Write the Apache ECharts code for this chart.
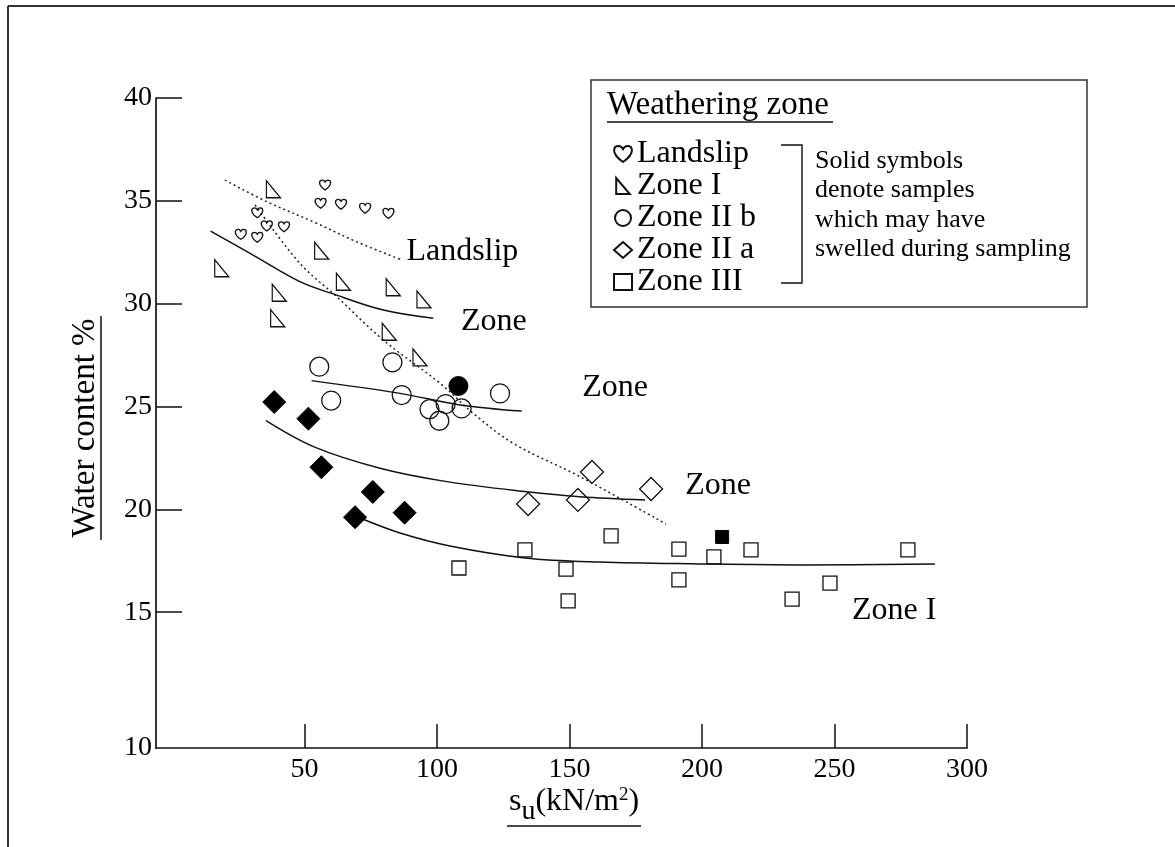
<!DOCTYPE html>
<html>
<head>
<meta charset="utf-8">
<script src="https://cdn.jsdelivr.net/npm/echarts@6/dist/echarts.min.js"></script>
<style>
html,body{margin:0;padding:0;background:#fff;}
#chart{width:1175px;height:847px;}
</style>
</head>
<body>
<div id="chart"></div>
<script>
// ---------- data ----------
const xTickValues = [50, 100, 150, 200, 250, 300];
const yTickValues = [15, 20, 25, 30, 35, 40];
const yCornerLabel = '10';
const X_MIN = -6, X_MAX = 300, Y_MIN = 8.4, Y_MAX = 40;

const seriesNames = ['Landslip', 'Zone I', 'Zone II b', 'Zone II a', 'Zone III'];

const landslipX = [57.8, 56.1, 63.8, 72.9, 81.7, 32.2, 35.8, 42.3, 26.0, 32.2];
const landslipY = [35.77, 34.88, 34.83, 34.64, 34.39, 34.42, 33.78, 33.74, 33.37, 33.23];

const zoneIX = [38.3, 56.5, 64.7, 83.5, 95.1, 40.5, 39.9, 18.8, 82.0, 93.6];
const zoneIY = [35.56, 32.58, 31.07, 30.80, 30.21, 30.53, 29.29, 31.72, 28.64, 27.39];

const zoneIIbX = [55.6, 83.2, 60.1, 86.7, 123.8, 97.2, 103.3, 109.3, 100.9];
const zoneIIbY = [26.94, 27.15, 25.29, 25.56, 25.64, 24.87, 25.12, 24.91, 24.31];
const zoneIIbSolidX = [108.1];
const zoneIIbSolidY = [26.0];

const zoneIIaX = [134.4, 153.2, 158.5, 180.8];
const zoneIIaY = [20.26, 20.46, 21.82, 20.99];
const zoneIIaSolidX = [38.6, 51.5, 56.4, 75.8, 87.8, 69.1];
const zoneIIaSolidY = [25.22, 24.41, 22.05, 20.85, 19.84, 19.62];

const zoneIIIX = [165.7, 133.2, 191.3, 218.5, 277.7, 204.5, 108.3, 148.7, 191.3, 248.3, 234.0, 149.5];
const zoneIIIY = [18.71, 18.03, 18.07, 18.03, 18.03, 17.69, 17.15, 17.10, 16.57, 16.42, 15.64, 15.55];
const zoneIIISolidX = [207.6];
const zoneIIISolidY = [18.66];

// trend curves
const landslipTrendX = [20.0, 35.8, 54.6, 69.7, 86.1];
const landslipTrendY = [36.01, 34.96, 33.91, 33.01, 32.16];
const zoneITrendX = [14.6, 29.5, 48.3, 60.3, 79.8, 98.6];
const zoneITrendY = [33.53, 32.45, 31.07, 30.5, 29.69, 29.29];
const zoneIDottedX = [31.4, 48.3, 62.2, 79.8, 101.2, 113.7, 128.8, 154.0, 186.4];
const zoneIDottedY = [34.8, 31.96, 30.34, 28.23, 26.13, 24.67, 23.21, 21.59, 19.29];
const zoneIIbTrendX = [52.7, 86.1, 108.7, 132.0];
const zoneIIbTrendY = [26.26, 25.64, 25.08, 24.78];
const zoneIIaTrendX = [35.5, 53.4, 78.5, 103.7, 133.9, 154.0, 178.5];
const zoneIIaTrendY = [24.31, 23.05, 22.0, 21.35, 20.86, 20.62, 20.46];
const zoneIIITrendX = [71.0, 86.1, 104.9, 133.2, 161.5, 199.3, 237.0, 287.9];
const zoneIIITrendY = [19.58, 18.85, 18.22, 17.64, 17.44, 17.35, 17.30, 17.35];

// in-plot annotations
const annotationLabels = ['Landslip', 'Zone', 'Zone', 'Zone', 'Zone I'];
const annotationX = [109.6, 121.5, 167.2, 206.1, 272.5];
const annotationY = [32.51, 29.11, 25.9, 21.14, 15.06];

const legendTitle = 'Weathering zone';
const noteText = ['Solid symbols', 'denote samples', 'which may have', 'swelled during sampling'];
const yAxisTitle = 'Water content %';

// ---------- chart ----------
const zip = (xs, ys) => xs.map((x, i) => [x, ys[i]]);
const FONT = '"Liberation Serif", "Times New Roman", serif';
const INK = '#000';
const LINE = '#111';
const HEART = 'path://M10,18 C10,18 0,11 0,5 C0,2 2,0 5,0 C7,0 9,1.5 10,3.5 C11,1.5 13,0 15,0 C18,0 20,2 20,5 C20,11 10,18 10,18 Z';
const TRI = 'path://M0,0 L0,20 L17,20 Z';
const openStyle = { color: 'rgba(255,255,255,0)', borderColor: LINE, borderWidth: 1.3, opacity: 1 };
const solidStyle = { color: '#000', borderColor: '#000', borderWidth: 1, opacity: 1 };

function scatter(name, xs, ys, symbol, size, style) {
  return { type: 'scatter', name, data: zip(xs, ys), symbol, symbolSize: size,
    itemStyle: style, z: 3, emphasis: { disabled: true } };
}
function curve(xs, ys, dotted) {
  return { type: 'line', data: zip(xs, ys), smooth: 0.35, showSymbol: false, symbol: 'none', silent: true,
    lineStyle: dotted ? { color: '#222', width: 1.5, type: [2, 3] } : { color: LINE, width: 1.5 }, z: 2 };
}

const chart = echarts.init(document.getElementById('chart'), null, { renderer: 'canvas' });
chart.setOption({
  animation: false,
  backgroundColor: '#fff',
  grid: { left: 156, right: 208, top: 98, bottom: 99 },
  xAxis: {
    type: 'value', min: X_MIN, max: X_MAX,
    axisLine: { onZero: false, lineStyle: { color: LINE, width: 1.7 } },
    axisTick: { show: true, inside: true, length: 24, customValues: xTickValues, lineStyle: { color: LINE, width: 1.5 } },
    axisLabel: { customValues: xTickValues, margin: 8, color: INK, fontFamily: FONT, fontSize: 28 },
    splitLine: { show: false }
  },
  yAxis: {
    type: 'value', min: Y_MIN, max: Y_MAX,
    axisLine: { show: true, onZero: false, lineStyle: { color: LINE, width: 1.7 } },
    axisTick: { show: true, inside: true, length: 26, customValues: yTickValues, lineStyle: { color: LINE, width: 1.5 } },
    axisLabel: { customValues: [Y_MIN].concat(yTickValues), margin: 4, color: INK, fontFamily: FONT, fontSize: 28,
      formatter: v => (Math.abs(v - Y_MIN) < 1e-6 ? yCornerLabel : String(v)) },
    splitLine: { show: false }
  },
  legend: {
    data: seriesNames, orient: 'vertical', left: 608, top: 133, itemGap: 0,
    itemWidth: 18, itemHeight: 16, selectedMode: false,
    textStyle: { fontFamily: FONT, fontSize: 32, lineHeight: 32, color: INK }
  },
  graphic: [
    { type: 'line', shape: { x1: 8, y1: 6, x2: 1175, y2: 6 }, style: { stroke: '#333', lineWidth: 2 } },
    { type: 'line', shape: { x1: 8, y1: 6, x2: 8, y2: 847 }, style: { stroke: '#333', lineWidth: 2 } },
    { type: 'rect', shape: { x: 591, y: 80, width: 496, height: 227 }, style: { fill: 'none', stroke: '#333', lineWidth: 1.5 } },
    { type: 'text', x: 607, y: 105, style: { text: legendTitle, font: '33px ' + FONT, fill: INK, textVerticalAlign: 'middle' } },
    { type: 'line', shape: { x1: 607, y1: 122, x2: 833, y2: 122 }, style: { stroke: LINE, lineWidth: 1.5 } },
    { type: 'polyline', shape: { points: [[781, 145], [802, 145], [802, 283], [781, 283]] }, style: { fill: 'none', stroke: LINE, lineWidth: 1.4 } },
    { type: 'text', x: 815, y: 146, style: { text: noteText.join('\n'), font: '26px ' + FONT, lineHeight: 29.5, fill: INK, textVerticalAlign: 'top' } },
    { type: 'text', x: 85, y: 428, rotation: Math.PI / 2, style: { text: yAxisTitle, font: '33px ' + FONT, fill: INK, textAlign: 'center', textVerticalAlign: 'middle' } },
    { type: 'line', shape: { x1: 101, y1: 316, x2: 101, y2: 540 }, style: { stroke: LINE, lineWidth: 1.5 } },
    { type: 'text', x: 574, y: 806, style: {
        text: '{a|s}{sub|u}{a|(kN/m}{sup|2}{a|)}', textAlign: 'center', textVerticalAlign: 'middle', fill: INK,
        rich: {
          a: { fontFamily: FONT, fontSize: 32, lineHeight: 34, verticalAlign: 'top', fill: INK, color: INK },
          sub: { fontFamily: FONT, fontSize: 28, lineHeight: 40, verticalAlign: 'bottom', fill: INK, color: INK },
          sup: { fontFamily: FONT, fontSize: 19, lineHeight: 20, verticalAlign: 'top', fill: INK, color: INK }
        } } },
    { type: 'line', shape: { x1: 507, y1: 826, x2: 641, y2: 826 }, style: { stroke: LINE, lineWidth: 1.5 } }
  ],
  series: [
    curve(landslipTrendX, landslipTrendY, true),
    curve(zoneIDottedX, zoneIDottedY, true),
    curve(zoneITrendX, zoneITrendY, false),
    curve(zoneIIbTrendX, zoneIIbTrendY, false),
    curve(zoneIIaTrendX, zoneIIaTrendY, false),
    curve(zoneIIITrendX, zoneIIITrendY, false),
    scatter('Landslip', landslipX, landslipY, HEART, [11, 10], openStyle),
    scatter('Zone I', zoneIX, zoneIY, TRI, [14, 17], openStyle),
    scatter('Zone II b', zoneIIbX, zoneIIbY, 'circle', 19, openStyle),
    scatter('Zone II b solid', zoneIIbSolidX, zoneIIbSolidY, 'circle', 19, solidStyle),
    scatter('Zone II a', zoneIIaX, zoneIIaY, 'diamond', [23, 23], openStyle),
    scatter('Zone II a solid', zoneIIaSolidX, zoneIIaSolidY, 'diamond', [23, 23], solidStyle),
    scatter('Zone III', zoneIIIX, zoneIIIY, 'rect', 14, openStyle),
    scatter('Zone III solid', zoneIIISolidX, zoneIIISolidY, 'rect', 13, solidStyle),
    {
      type: 'scatter', name: 'annotations', silent: true, symbolSize: 1,
      itemStyle: { color: 'rgba(0,0,0,0)', opacity: 1 },
      data: annotationLabels.map((t, i) => ({ value: [annotationX[i], annotationY[i]], name: t })),
      label: { show: true, position: 'inside', formatter: p => p.name, fontFamily: FONT, fontSize: 32, color: INK, opacity: 1 },
      z: 4
    }
  ]
});
</script>
</body>
</html>
